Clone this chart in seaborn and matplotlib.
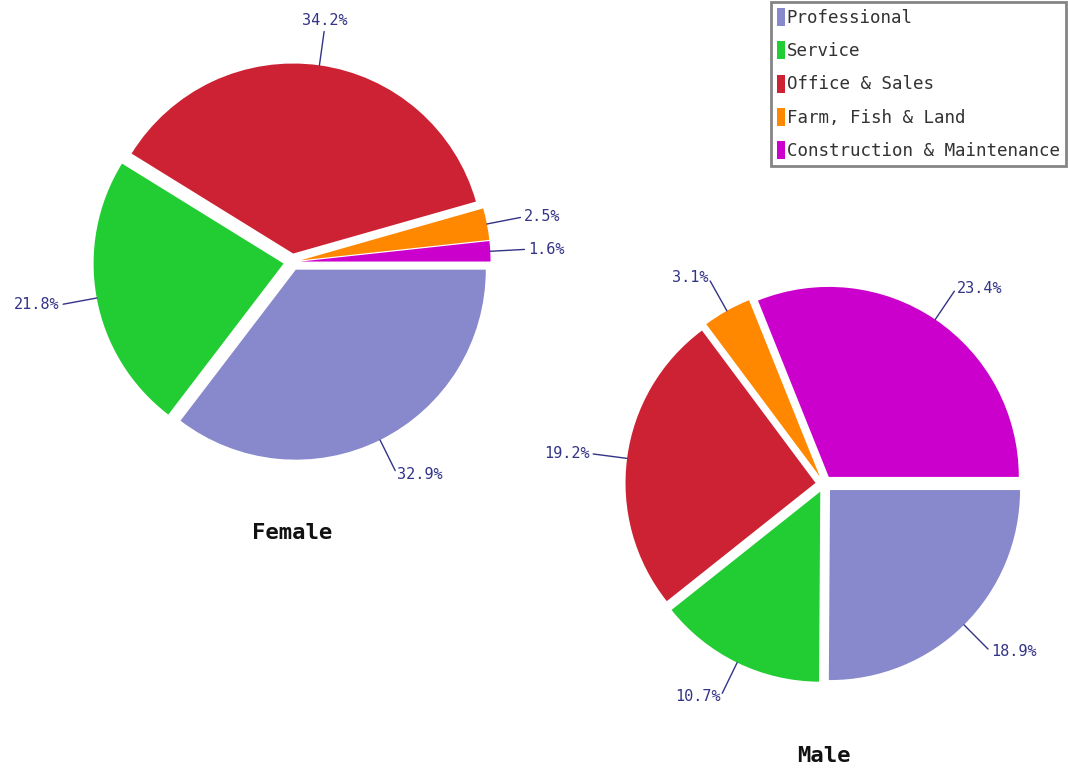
import numpy as np
import matplotlib
matplotlib.use("Agg")
import matplotlib.pyplot as plt
import seaborn as sns

# ---- data ----
categories = ["Professional", "Service", "Office & Sales", "Farm, Fish & Land",
              "Construction & Maintenance"]
female_pct = [32.9, 21.8, 34.2, 2.5, 1.6]
male_pct = [18.9, 10.7, 19.2, 3.1, 23.4]
groups = ["Female", "Male"]
colors = ["#8888cc", "#22cc33", "#cc2233", "#ff8800", "#cc00cc"]

sns.set_theme(style="white")
plt.rcParams["font.family"] = ["DejaVu Sans Mono"]

W, H = 1068, 768
fig = plt.figure(figsize=(W / 100, H / 100), dpi=100)

label_color = "#333388"
R_PX = 190      # pie radius in pixels
L = 1.5         # half-range of each axes in data units


def pie_axes(cx, cy):
    side = 2 * L * R_PX
    ax = fig.add_axes([(cx - side / 2) / W, (H - cy - side / 2) / H, side / W, side / H])
    return ax


def draw_pie(ax, values, title, title_y):
    wedges, _ = ax.pie(values, colors=colors, startangle=0, counterclock=False,
                       explode=[0.045] * len(values),
                       wedgeprops=dict(linewidth=0))
    # pie() resets the limits, so set them afterwards
    ax.set_xlim(-L, L)
    ax.set_ylim(-L, L)
    ax.set_aspect("equal")
    ax.axis("off")
    for w, v in zip(wedges, values):
        ang = np.deg2rad((w.theta1 + w.theta2) / 2)
        c, s = np.cos(ang), np.sin(ang)
        ox, oy = w.center
        ax.plot([ox + 1.0 * c, ox + 1.18 * c], [oy + 1.0 * s, oy + 1.18 * s],
                color=label_color, lw=1)
        if abs(c) < 0.3:
            ha = "center"
            va = "bottom" if s > 0 else "top"
        else:
            ha = "left" if c > 0 else "right"
            va = "center"
        ax.text(ox + 1.2 * c, oy + 1.2 * s, f"{v}%", ha=ha, va=va,
                fontsize=11, color=label_color)
    ax.text(0, title_y, title, ha="center", va="center", fontsize=16,
            fontweight="bold", color="#111111")
    return wedges


ax_f = pie_axes(292, 262)
wedges = draw_pie(ax_f, female_pct, groups[0], -1.425)
ax_m = pie_axes(824, 484)
draw_pie(ax_m, male_pct, groups[1], -1.43)

leg = fig.legend(wedges, categories, loc="upper right",
                 bbox_to_anchor=(1066 / W, 1 - 2 / H),
                 fancybox=False, frameon=True, edgecolor="#666666",
                 fontsize=12.6, handlelength=0.42, handleheight=1.2,
                 handletextpad=0.12, labelspacing=0.82, borderpad=0.35,
                 borderaxespad=0)
leg.get_frame().set_linewidth(2)
for t in leg.get_texts():
    t.set_color("#333333")

fig.savefig("out.png", dpi=100, facecolor="white")
